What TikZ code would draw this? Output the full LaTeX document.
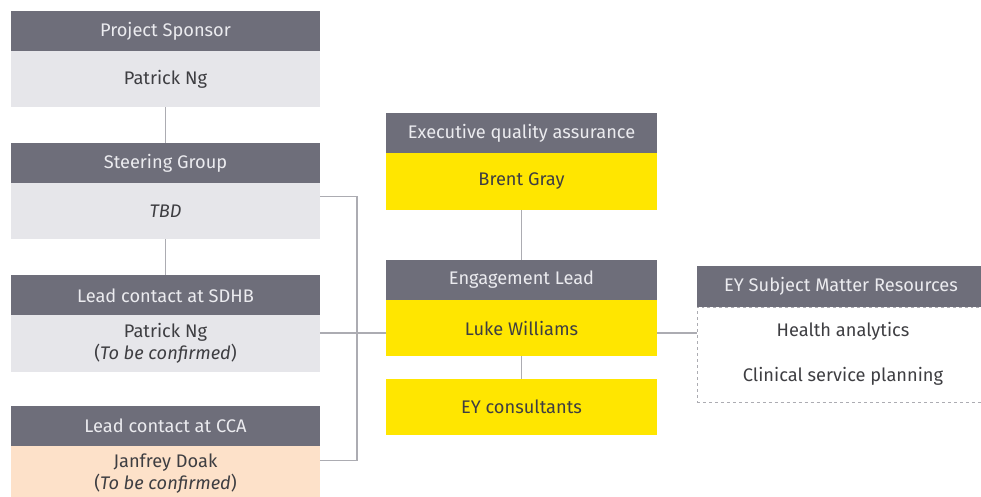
\documentclass[tikz,border=0pt]{standalone}
\usepackage{fontspec}
\setmainfont{Fira Sans}
\usetikzlibrary{calc}
\definecolor{hdrgray}{HTML}{6E6E7A}
\definecolor{lightbody}{HTML}{E6E6EA}
\definecolor{eyyellow}{HTML}{FFE600}
\definecolor{peach}{HTML}{FDE1C9}
\definecolor{linegray}{HTML}{ACACB2}
\definecolor{bodytext}{HTML}{3E3E42}
\definecolor{hdrtext}{HTML}{EBEBEF}
\begin{document}
\begin{tikzpicture}[x=1bp,y=-1bp,
  every node/.style={inner sep=0pt,outer sep=0pt,font=\fontsize{18.3}{21.5}\selectfont},
  hdr/.style={fill=hdrgray,text=hdrtext,minimum height=40bp},
  bodybox/.style={text=bodytext,minimum height=56bp,align=center},
  leftw/.style={minimum width=309bp},
  midw/.style={minimum width=271bp},
  grey/.style={bodybox,fill=lightbody},
  yel/.style={bodybox,fill=eyyellow},
  conn/.style={draw=linegray,line width=1.2bp}]
\useasboundingbox (0,0) rectangle (981,497);
% left column
\node[hdr,leftw] (psh) at (165.5,31.5) {Project Sponsor};
\node[grey,leftw] (psb) at (165.5,79.5) {Patrick Ng};
\node[hdr,leftw] (sgh) at (165.5,163.5) {Steering Group};
\node[grey,leftw] (sgb) at (165.5,211.5) {\itshape TBD};
\node[hdr,leftw] (sdh) at (165.5,295.5) {Lead contact at SDHB};
\node[grey,leftw,minimum height=57bp] (sdb) at (165.5,343.5) {Patrick Ng\\(\textit{To be confirmed})};
\node[hdr,leftw] (cch) at (165.5,425.5) {Lead contact at CCA};
\node[bodybox,fill=peach,leftw] (ccb) at (165.5,473.5) {Janfrey Doak\\(\textit{To be confirmed})};
% middle column
\node[hdr,midw] (eqh) at (521.5,133) {Executive quality assurance};
\node[yel,midw,minimum height=57bp] (eqb) at (521.5,181.5) {Brent Gray};
\node[hdr,midw] (elh) at (521.5,280) {Engagement Lead};
\node[yel,midw] (elb) at (521.5,328) {Luke Williams};
\node[yel,midw] (eyc) at (521.5,407) {EY consultants};
% right box
\node[hdr,minimum width=288bp,minimum height=41bp] (smh) at (841,286.5) {EY Subject Matter Resources};
\node[draw=linegray,dashed,line width=0.8bp,minimum width=288bp,minimum height=95bp] (smb) at (841,354.5) {};
\node[text=bodytext] (ha) at (843,331) {Health analytics};
\node[text=bodytext] (csp) at (843,376) {Clinical service planning};
% connectors
\draw[conn] (psb.south) -- (sgh.north);
\draw[conn] (sgb.south) -- (sdh.north);
\draw[conn] (eqb.south) -- (elh.north);
\draw[conn] (elb.south) -- (eyc.north);
\coordinate (sgout) at ($(sgb.north east)+(0,13)$);
\coordinate (ccout) at ($(ccb.north east)+(0,15)$);
\coordinate (sdout) at ($(sdb.north east)+(0,18)$);
\draw[conn] (sgout) -- ++(37,0) |- (ccout);
\draw[conn] (sdout) -- (sdout -| elb.west);
\draw[conn] (sdout -| elb.east) -- (sdout -| smb.west);
\end{tikzpicture}
\end{document}
